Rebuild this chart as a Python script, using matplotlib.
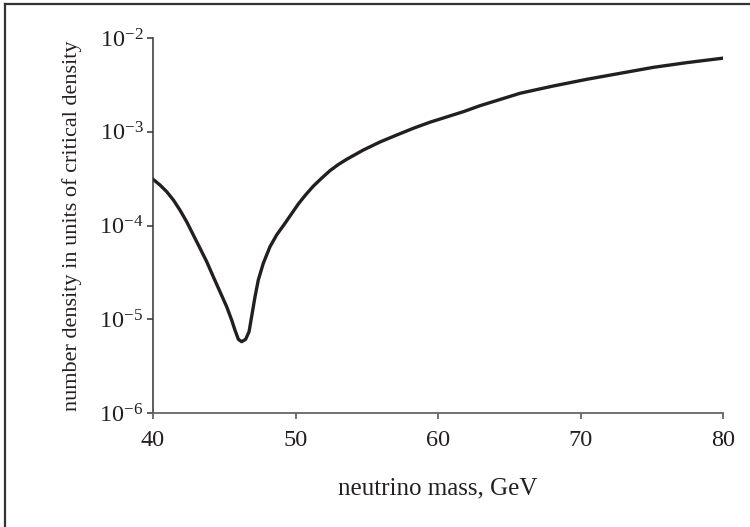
import matplotlib
matplotlib.use("Agg")
import matplotlib.pyplot as plt
import numpy as np
from matplotlib.lines import Line2D
from matplotlib.ticker import LogLocator, NullLocator

plt.rcParams['font.family'] = ['Liberation Serif', 'DejaVu Serif']
plt.rcParams['mathtext.fontset'] = 'stix'

# neutrino mass (GeV) and log10 of number density (units of critical density)
mass = [40.0, 40.49, 40.96, 41.43, 41.89, 42.36, 42.83, 43.30, 43.77, 44.23,
        44.70, 45.17, 45.52, 45.75, 45.99, 46.22, 46.50, 46.74, 46.92, 47.16,
        47.39, 47.74, 48.21, 48.68, 49.2, 49.7, 50.2, 50.7, 51.25, 51.8,
        52.42, 53.0, 53.59, 54.76, 55.93, 57.1, 58.27, 59.44, 60.61, 61.78,
        62.95, 64.1, 65.75, 67.0, 68.09, 70.43, 72.77, 75.11, 77.45, 80.0]
log10_density = [-3.507, -3.568, -3.639, -3.728, -3.835, -3.959, -4.101, -4.243,
                 -4.386, -4.546, -4.706, -4.866, -5.008, -5.115, -5.214, -5.239,
                 -5.214, -5.133, -4.973, -4.759, -4.581, -4.403, -4.226, -4.10,
                 -3.99, -3.88, -3.77, -3.675, -3.58, -3.50, -3.415, -3.35, -3.294,
                 -3.195, -3.109, -3.035, -2.963, -2.898, -2.842, -2.786, -2.722,
                 -2.668, -2.590, -2.548, -2.512, -2.441, -2.377, -2.313, -2.263,
                 -2.215]

x_ticks = [40, 50, 60, 70, 80]

density = 10.0 ** np.array(log10_density)

fig = plt.figure(figsize=(7.5, 5.27), dpi=100)
ax = fig.add_axes([0.204, 0.2163, 0.76, 0.7116])
ax.plot(mass, density, color='#231f20', lw=2.4, solid_joinstyle='round')
ax.set_yscale('log')
ax.set_xlim(40, 80)
ax.set_ylim(1e-6, 1e-2)
ax.set_xticks(x_ticks)
ax.yaxis.set_major_locator(LogLocator(base=10, numticks=10))
ax.yaxis.set_minor_locator(NullLocator())
ax.xaxis.set_minor_locator(NullLocator())
for s in ['top', 'right']:
    ax.spines[s].set_visible(False)
ax.spines['left'].set_color('#333333')
ax.spines['bottom'].set_color('#666666')
ax.spines['left'].set_linewidth(1.1)
ax.spines['bottom'].set_linewidth(1.3)
ax.tick_params(axis='y', direction='out', length=4, width=1.1, color='#333333',
               labelsize=17.5, pad=3, labelcolor='#231f20')
ax.tick_params(axis='x', direction='out', length=4, width=1.3, color='#666666',
               labelsize=17.5, pad=8, labelcolor='#231f20')
ax.set_xlabel('neutrino mass, GeV', fontsize=18, labelpad=19, color='#231f20')
ax.set_ylabel('number density in units of critical density', fontsize=16,
              labelpad=12, color='#231f20')

fig.add_artist(Line2D([0.007, 1.0], [0.992, 0.992], transform=fig.transFigure,
                      color='#333333', lw=1.6))
fig.add_artist(Line2D([0.007, 0.007], [0.0, 0.992], transform=fig.transFigure,
                      color='#333333', lw=1.6))

fig.savefig('out.png', dpi=100)
